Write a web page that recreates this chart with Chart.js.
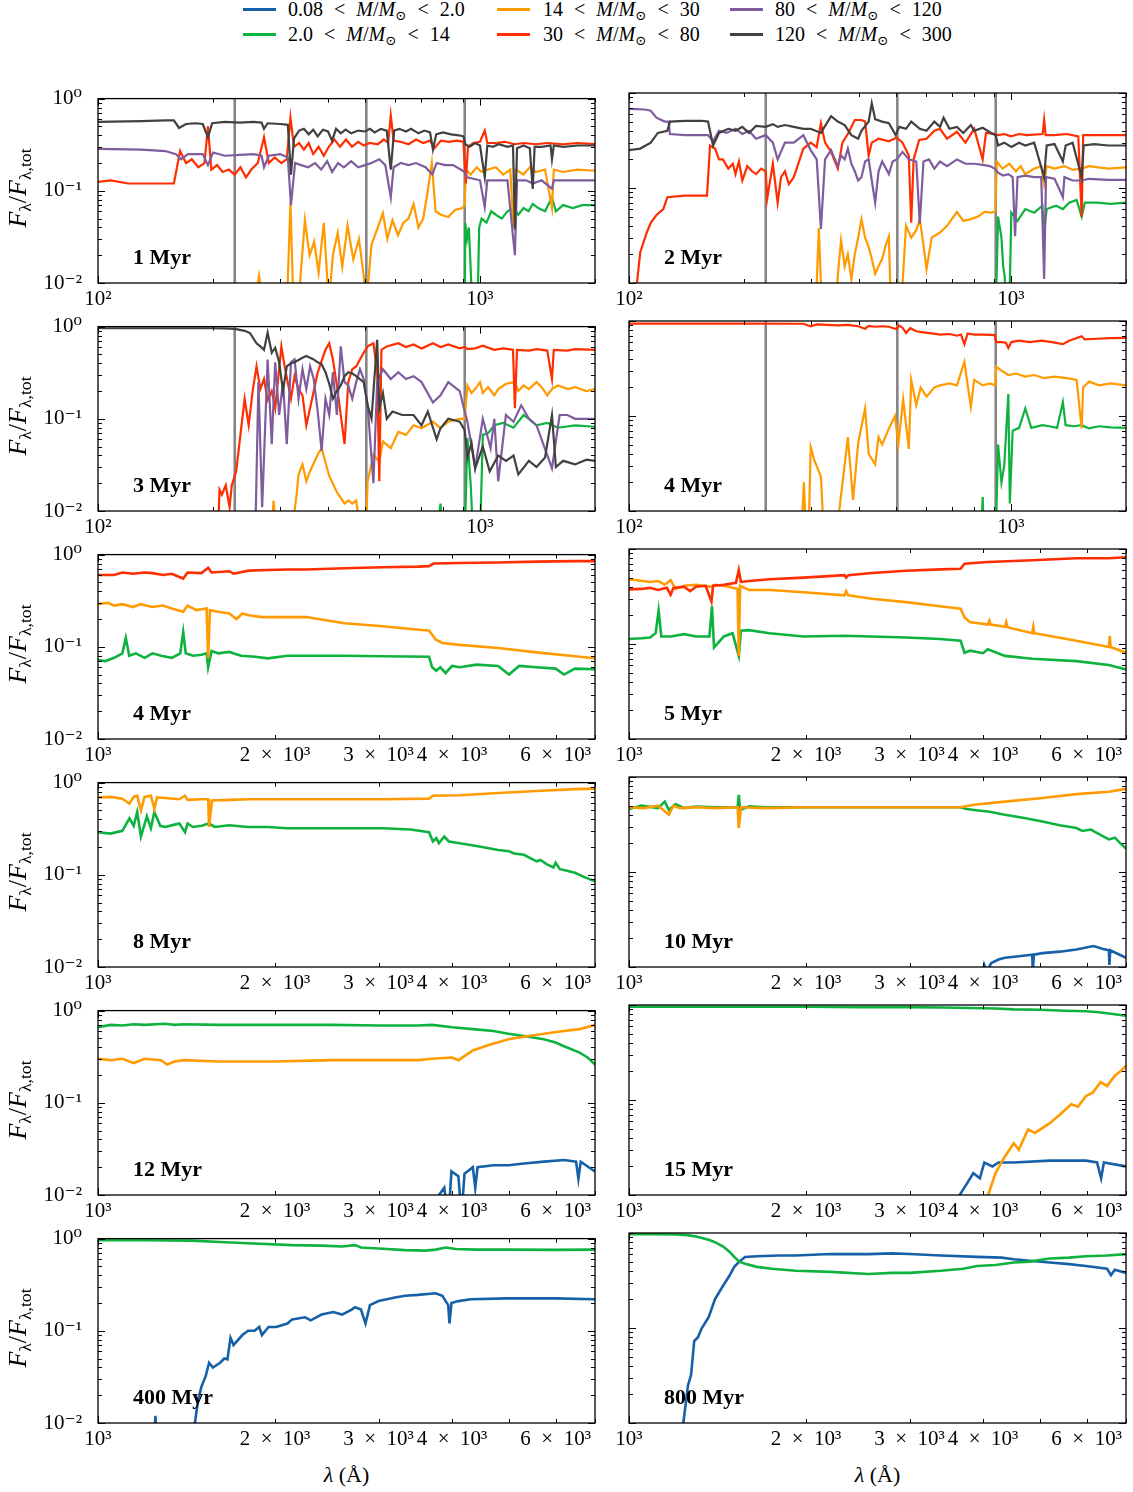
<!DOCTYPE html>
<html>
<head>
<meta charset="utf-8">
<script src="https://cdn.jsdelivr.net/npm/chart.js@4.4.0/dist/chart.umd.min.js"></script>
<style>
  body { margin: 0; background: #fff; width: 1133px; height: 1492px; position: relative; overflow: hidden;
         font-family: 'Liberation Serif', 'DejaVu Serif', serif; color: #000; }
  canvas { position: absolute; }
  .item-legenda { position: absolute; font-size: 20px; line-height: 24px; white-space: nowrap; word-spacing: 6px; }
  .traco-legenda { position: absolute; width: 33px; height: 3px; }
  .idade { position: absolute; font-weight: bold; font-size: 22px; line-height: 24px; white-space: nowrap; }
  .titulo-y { position: absolute; width: 200px; height: 28px; line-height: 28px; text-align: center;
              font-size: 26px; transform: rotate(-90deg); white-space: nowrap; }
  .titulo-x { position: absolute; width: 120px; text-align: center; font-size: 22px; line-height: 26px; }
  sub { font-size: 68%; vertical-align: -0.3em; line-height: 0; }
</style>
</head>
<body>
<script>
// espectros: pares [comprimento de onda (Å), F_lambda / F_lambda,tot]
// 1 Myr (UV)
const p1Verde = [[912,0.005],[915,0.045],[925,0.03],[935,0.04],[945,0.015],[955,0.005],[985,0.005],[995,0.04],[1010,0.05],[1040,0.045],[1070,0.06],[1100,0.055],[1140,0.05],[1180,0.06],[1224,0.065],[1260,0.055],[1300,0.065],[1340,0.06],[1374,0.072],[1420,0.065],[1480,0.06],[1543,0.085],[1580,0.06],[1650,0.07],[1750,0.065],[1850,0.07],[2000,0.07]];
const p1Laranja = [[255,0.005],[264,0.012],[272,0.005],[312,0.005],[319,0.075],[325,0.005],[338,0.01],[348,0.048],[358,0.02],[368,0.028],[378,0.013],[390,0.045],[402,0.006],[412,0.02],[424,0.035],[436,0.015],[450,0.042],[466,0.018],[482,0.03],[496,0.012],[504,0.006],[520,0.026],[540,0.04],[557,0.057],[572,0.03],[590,0.048],[610,0.033],[630,0.045],[650,0.05],[670,0.072],[690,0.04],[710,0.05],[730,0.1],[748,0.2],[765,0.06],[790,0.055],[826,0.052],[860,0.062],[900,0.065],[912,0.07],[918,0.17],[945,0.15],[980,0.18],[1010,0.16],[1050,0.17],[1100,0.18],[1150,0.15],[1200,0.17],[1224,0.04],[1240,0.17],[1300,0.15],[1350,0.18],[1400,0.16],[1480,0.17],[1543,0.065],[1560,0.17],[1650,0.16],[1800,0.17],[2000,0.165]];
const p1Vermelho = [[100,0.125],[108,0.13],[120,0.12],[140,0.12],[158,0.12],[164,0.27],[170,0.2],[176,0.22],[183,0.18],[190,0.2],[194,0.5],[198,0.17],[205,0.19],[212,0.16],[220,0.17],[228,0.15],[236,0.18],[244,0.14],[252,0.17],[262,0.2],[272,0.38],[280,0.2],[290,0.23],[302,0.2],[312,0.22],[319,0.62],[326,0.3],[336,0.33],[346,0.28],[356,0.33],[366,0.25],[378,0.3],[390,0.24],[402,0.3],[416,0.36],[430,0.3],[446,0.36],[462,0.3],[480,0.34],[496,0.31],[515,0.33],[540,0.32],[560,0.36],[575,0.33],[584,0.66],[594,0.35],[620,0.34],[650,0.32],[680,0.36],[710,0.33],[740,0.35],[760,0.29],[790,0.35],[830,0.34],[870,0.35],[905,0.34],[918,0.12],[930,0.3],[960,0.33],[1000,0.34],[1029,0.45],[1045,0.33],[1100,0.33],[1160,0.34],[1234,0.32],[1300,0.33],[1400,0.32],[1500,0.33],[1650,0.32],[1800,0.33],[2000,0.32]];
const p1Roxo = [[100,0.285],[130,0.28],[150,0.27],[160,0.25],[165,0.22],[172,0.25],[188,0.25],[194,0.19],[200,0.26],[215,0.24],[235,0.245],[255,0.25],[268,0.24],[272,0.18],[280,0.24],[300,0.25],[314,0.23],[320,0.07],[328,0.2],[340,0.19],[355,0.18],[370,0.2],[384,0.17],[398,0.21],[410,0.16],[425,0.2],[440,0.18],[460,0.21],[480,0.18],[500,0.19],[520,0.2],[545,0.22],[565,0.19],[584,0.085],[594,0.18],[620,0.2],[650,0.19],[680,0.2],[720,0.18],[750,0.15],[770,0.2],[810,0.19],[850,0.19],[890,0.17],[912,0.16],[925,0.14],[960,0.135],[1000,0.13],[1029,0.067],[1045,0.13],[1100,0.13],[1180,0.13],[1234,0.02],[1250,0.13],[1320,0.13],[1374,0.12],[1450,0.13],[1543,0.105],[1560,0.13],[1700,0.13],[2000,0.13]];
const p1Preto = [[100,0.56],[130,0.57],[150,0.58],[158,0.58],[163,0.48],[170,0.53],[180,0.54],[188,0.53],[194,0.38],[199,0.54],[215,0.56],[235,0.55],[255,0.56],[268,0.55],[272,0.47],[278,0.54],[300,0.53],[314,0.52],[320,0.15],[326,0.37],[336,0.45],[346,0.47],[356,0.41],[366,0.46],[376,0.39],[388,0.46],[400,0.44],[410,0.35],[420,0.47],[432,0.42],[445,0.46],[460,0.42],[480,0.45],[500,0.44],[515,0.47],[530,0.43],[550,0.47],[570,0.45],[584,0.17],[596,0.45],[615,0.47],[640,0.44],[660,0.47],[690,0.42],[715,0.45],[740,0.43],[753,0.28],[768,0.41],[800,0.43],[840,0.41],[880,0.4],[905,0.39],[915,0.32],[940,0.3],[970,0.33],[1000,0.31],[1029,0.14],[1045,0.31],[1080,0.3],[1120,0.32],[1180,0.3],[1220,0.31],[1234,0.038],[1250,0.29],[1300,0.31],[1350,0.29],[1374,0.105],[1390,0.3],[1450,0.3],[1530,0.31],[1543,0.22],[1560,0.31],[1650,0.3],[1800,0.31],[2000,0.31]];

// 2 Myr (UV)
const p2Verde = [[912,0.005],[925,0.05],[944,0.03],[954,0.015],[962,0.012],[973,0.005],[990,0.005],[1002,0.055],[1040,0.045],[1090,0.06],[1150,0.055],[1208,0.065],[1221,0.035],[1240,0.06],[1312,0.065],[1367,0.06],[1420,0.07],[1485,0.075],[1531,0.05],[1560,0.07],[1680,0.07],[1822,0.068],[2000,0.07]];
const p2Laranja = [[308,0.005],[314,0.038],[320,0.005],[348,0.005],[352,0.012],[359,0.028],[367,0.015],[374,0.02],[382,0.011],[390,0.02],[398,0.03],[406,0.047],[415,0.03],[424,0.024],[432,0.018],[441,0.0125],[450,0.015],[460,0.018],[470,0.025],[479,0.031],[485,0.005],[515,0.005],[531,0.04],[548,0.03],[565,0.036],[577,0.047],[590,0.025],[601,0.014],[620,0.03],[652,0.034],[680,0.04],[722,0.056],[750,0.045],[785,0.047],[820,0.05],[852,0.056],[890,0.055],[910,0.057],[918,0.19],[950,0.16],[990,0.18],[1030,0.15],[1060,0.17],[1090,0.14],[1150,0.16],[1200,0.17],[1221,0.11],[1240,0.17],[1300,0.16],[1380,0.17],[1450,0.155],[1531,0.16],[1600,0.17],[1800,0.16],[2000,0.165]];
const p2Vermelho = [[103,0.005],[107,0.021],[111,0.033],[114,0.043],[118,0.052],[123,0.06],[126,0.08],[140,0.083],[160,0.083],[163,0.28],[168,0.26],[172,0.2],[176,0.2],[182,0.16],[187,0.18],[190,0.14],[194,0.19],[198,0.12],[204,0.17],[210,0.15],[215,0.14],[222,0.16],[228,0.15],[230,0.077],[238,0.18],[245,0.07],[250,0.13],[256,0.15],[262,0.11],[270,0.13],[286,0.26],[299,0.3],[310,0.27],[318,0.48],[326,0.3],[338,0.24],[352,0.16],[362,0.3],[374,0.37],[390,0.52],[406,0.52],[415,0.5],[424,0.22],[432,0.3],[450,0.33],[479,0.31],[502,0.34],[520,0.3],[540,0.22],[548,0.043],[556,0.2],[575,0.32],[601,0.33],[630,0.4],[652,0.42],[680,0.33],[722,0.39],[760,0.3],[801,0.42],[843,0.2],[860,0.38],[912,0.37],[925,0.36],[960,0.37],[1000,0.35],[1050,0.37],[1100,0.36],[1210,0.37],[1221,0.52],[1232,0.36],[1300,0.36],[1400,0.37],[1500,0.35],[1531,0.05],[1545,0.36],[1700,0.36],[2000,0.36]];
const p2Roxo = [[100,0.68],[110,0.67],[114,0.65],[118,0.55],[124,0.5],[127,0.5],[128,0.37],[140,0.36],[155,0.36],[161,0.36],[166,0.31],[172,0.4],[180,0.38],[190,0.42],[198,0.37],[206,0.4],[215,0.33],[228,0.36],[238,0.3],[245,0.2],[256,0.3],[270,0.3],[286,0.36],[299,0.25],[310,0.2],[318,0.037],[326,0.2],[338,0.25],[352,0.17],[359,0.22],[367,0.2],[374,0.26],[382,0.18],[390,0.15],[398,0.12],[406,0.13],[415,0.19],[424,0.2],[432,0.12],[441,0.07],[450,0.15],[460,0.19],[479,0.14],[490,0.19],[502,0.2],[520,0.24],[540,0.2],[565,0.19],[577,0.042],[590,0.19],[610,0.2],[630,0.16],[652,0.19],[680,0.17],[722,0.2],[760,0.18],[801,0.18],[843,0.175],[880,0.17],[906,0.16],[925,0.145],[954,0.135],[984,0.14],[1010,0.13],[1025,0.031],[1040,0.13],[1090,0.135],[1150,0.13],[1200,0.13],[1221,0.011],[1235,0.13],[1300,0.125],[1367,0.08],[1380,0.13],[1450,0.12],[1531,0.12],[1600,0.125],[1800,0.122],[2000,0.122]];
const p2Preto = [[100,0.25],[107,0.26],[114,0.3],[119,0.38],[126,0.4],[128,0.5],[140,0.51],[155,0.51],[161,0.5],[166,0.28],[172,0.38],[182,0.42],[190,0.4],[198,0.44],[206,0.38],[215,0.45],[228,0.44],[238,0.47],[245,0.44],[256,0.46],[270,0.44],[286,0.42],[299,0.42],[318,0.38],[338,0.57],[352,0.5],[367,0.46],[382,0.36],[398,0.33],[406,0.4],[424,0.5],[432,0.78],[441,0.53],[460,0.5],[479,0.48],[499,0.36],[510,0.44],[531,0.42],[548,0.5],[565,0.45],[577,0.42],[601,0.4],[630,0.5],[652,0.44],[666,0.55],[690,0.42],[722,0.44],[750,0.38],[785,0.46],[801,0.4],[843,0.43],[887,0.38],[912,0.36],[925,0.28],[960,0.3],[1002,0.27],[1050,0.3],[1090,0.28],[1150,0.3],[1221,0.13],[1240,0.28],[1300,0.29],[1367,0.19],[1390,0.28],[1450,0.3],[1531,0.13],[1550,0.28],[1650,0.29],[1800,0.28],[2000,0.28]];

// 3 Myr (UV)
const p3Verde = [[770,0.005],[788,0.012],[800,0.005],[912,0.005],[927,0.062],[945,0.02],[960,0.005],[1000,0.005],[1017,0.067],[1050,0.07],[1090,0.085],[1150,0.09],[1224,0.08],[1300,0.11],[1343,0.1],[1406,0.085],[1500,0.09],[1600,0.08],[1774,0.085],[2000,0.082]];
const p3Laranja = [[285,0.005],[288,0.013],[294,0.005],[320,0.005],[331,0.015],[335,0.025],[343,0.032],[351,0.021],[359,0.027],[376,0.041],[385,0.048],[403,0.024],[422,0.016],[442,0.012],[452,0.013],[463,0.012],[474,0.013],[490,0.005],[502,0.005],[508,0.021],[526,0.041],[545,0.034],[557,0.057],[584,0.048],[611,0.072],[640,0.067],[670,0.085],[703,0.079],[753,0.093],[788,0.079],[826,0.093],[885,0.1],[912,0.1],[927,0.23],[950,0.19],[971,0.21],[1000,0.25],[1017,0.19],[1050,0.22],[1090,0.18],[1116,0.21],[1170,0.24],[1234,0.25],[1260,0.2],[1300,0.23],[1343,0.21],[1406,0.25],[1450,0.22],[1500,0.18],[1543,0.21],[1600,0.23],[1700,0.21],[1774,0.22],[1900,0.2],[2000,0.21]];
const p3Vermelho = [[206,0.005],[208,0.017],[211,0.015],[216,0.019],[221,0.011],[224,0.019],[230,0.027],[242,0.165],[248,0.085],[254,0.2],[260,0.37],[266,0.21],[272,0.27],[278,0.16],[285,0.2],[291,0.13],[302,0.61],[308,0.37],[320,0.165],[327,0.29],[335,0.21],[343,0.18],[351,0.085],[359,0.13],[376,0.32],[394,0.56],[403,0.66],[412,0.44],[422,0.23],[442,0.053],[452,0.25],[463,0.345],[474,0.37],[496,0.52],[508,0.61],[526,0.66],[538,0.32],[545,0.021],[552,0.56],[570,0.61],[611,0.66],[640,0.6],[670,0.64],[703,0.58],[753,0.66],[788,0.6],[826,0.64],[885,0.58],[912,0.6],[927,0.57],[971,0.58],[1017,0.62],[1090,0.56],[1150,0.58],[1220,0.56],[1234,0.13],[1250,0.56],[1343,0.55],[1406,0.57],[1500,0.55],[1543,0.27],[1560,0.56],[1693,0.55],[1774,0.57],[2000,0.56]];
const p3Roxo = [[258,0.005],[263,0.25],[269,0.011],[278,0.44],[285,0.053],[291,0.41],[298,0.11],[305,0.25],[312,0.053],[320,0.41],[327,0.44],[335,0.165],[343,0.345],[351,0.21],[359,0.37],[367,0.27],[376,0.12],[385,0.045],[394,0.165],[403,0.11],[412,0.32],[422,0.11],[432,0.61],[442,0.25],[452,0.23],[463,0.165],[474,0.25],[485,0.345],[496,0.27],[508,0.14],[526,0.02],[538,0.25],[557,0.345],[584,0.27],[611,0.32],[640,0.27],[670,0.29],[703,0.25],[753,0.15],[788,0.18],[826,0.25],[885,0.2],[912,0.12],[927,0.093],[971,0.029],[1017,0.1],[1066,0.048],[1090,0.1],[1116,0.021],[1169,0.11],[1224,0.093],[1282,0.14],[1343,0.1],[1406,0.085],[1508,0.038],[1543,0.029],[1616,0.11],[1693,0.11],[1774,0.1],[2000,0.1]];
const p3Preto = [[100,0.96],[150,0.96],[200,0.96],[221,0.95],[230,0.94],[242,0.9],[250,0.85],[260,0.66],[266,0.61],[272,0.56],[278,0.86],[285,0.52],[291,0.59],[298,0.41],[305,0.2],[312,0.37],[320,0.4],[327,0.41],[343,0.46],[351,0.48],[359,0.46],[367,0.44],[376,0.41],[385,0.39],[394,0.32],[403,0.24],[412,0.165],[422,0.2],[432,0.23],[442,0.29],[452,0.32],[463,0.31],[474,0.29],[496,0.25],[508,0.14],[520,0.1],[538,0.72],[545,0.13],[557,0.19],[570,0.1],[590,0.12],[626,0.11],[670,0.11],[703,0.085],[730,0.12],[770,0.06],[788,0.079],[826,0.1],[885,0.093],[912,0.075],[927,0.038],[950,0.055],[971,0.029],[1017,0.05],[1060,0.027],[1116,0.04],[1170,0.035],[1224,0.04],[1260,0.025],[1343,0.035],[1406,0.03],[1480,0.038],[1543,0.11],[1580,0.03],[1650,0.035],[1774,0.032],[1900,0.036],[2000,0.035]];

// 4 Myr (UV)
const p4Verde = [[835,0.005],[843,0.014],[850,0.005],[912,0.005],[925,0.05],[944,0.02],[960,0.03],[984,0.17],[993,0.012],[1010,0.07],[1050,0.075],[1090,0.12],[1130,0.075],[1208,0.08],[1260,0.078],[1320,0.075],[1367,0.14],[1390,0.08],[1460,0.078],[1531,0.08],[1600,0.074],[1700,0.078],[1822,0.076],[2000,0.075]];
const p4Laranja = [[282,0.005],[287,0.02],[291,0.005],[295,0.005],[299,0.047],[305,0.035],[318,0.023],[324,0.005],[350,0.005],[355,0.01],[367,0.031],[374,0.06],[386,0.013],[398,0.052],[415,0.12],[424,0.04],[441,0.031],[450,0.06],[460,0.05],[479,0.074],[497,0.1],[507,0.05],[522,0.15],[540,0.045],[548,0.24],[565,0.13],[580,0.2],[601,0.16],[630,0.2],[652,0.21],[690,0.22],[722,0.21],[755,0.37],[785,0.125],[801,0.24],[843,0.21],[880,0.22],[910,0.21],[915,0.33],[944,0.3],[984,0.27],[1030,0.28],[1090,0.26],[1150,0.27],[1221,0.25],[1300,0.26],[1400,0.25],[1485,0.24],[1531,0.074],[1545,0.2],[1600,0.23],[1700,0.21],[1822,0.22],[2000,0.21]];
const p4Vermelho = [[100,0.94],[200,0.94],[286,0.935],[299,0.88],[310,0.92],[330,0.91],[352,0.9],[374,0.91],[398,0.88],[415,0.83],[424,0.89],[441,0.87],[460,0.88],[479,0.87],[502,0.82],[508,0.9],[520,0.85],[531,0.75],[545,0.84],[565,0.78],[590,0.76],[620,0.74],[652,0.72],[690,0.73],[722,0.7],[740,0.72],[755,0.57],[770,0.74],[801,0.72],[843,0.72],[906,0.71],[915,0.6],[944,0.6],[970,0.59],[984,0.52],[1002,0.6],[1050,0.62],[1120,0.6],[1200,0.62],[1280,0.6],[1367,0.57],[1420,0.62],[1531,0.69],[1560,0.64],[1680,0.65],[1822,0.66],[2000,0.665]];

// 4 Myr (óptico)
const p5Verde = [[1000,0.072],[1030,0.07],[1065,0.076],[1100,0.085],[1115,0.125],[1130,0.08],[1160,0.085],[1200,0.076],[1238,0.085],[1280,0.08],[1335,0.076],[1380,0.085],[1396,0.145],[1410,0.085],[1450,0.08],[1500,0.082],[1530,0.085],[1539,0.06],[1560,0.09],[1600,0.085],[1672,0.088],[1750,0.08],[1850,0.078],[1944,0.075],[2100,0.08],[2625,0.08],[3051,0.079],[3655,0.078],[3700,0.06],[3760,0.055],[3820,0.06],[3900,0.052],[4000,0.062],[4121,0.06],[4400,0.064],[4790,0.062],[5000,0.05],[5200,0.062],[5568,0.06],[6000,0.058],[6200,0.05],[6471,0.058],[7000,0.057]];
const p5Laranja = [[1000,0.29],[1040,0.3],[1065,0.28],[1100,0.29],[1148,0.27],[1180,0.29],[1238,0.27],[1290,0.28],[1335,0.26],[1396,0.24],[1420,0.28],[1470,0.25],[1530,0.26],[1539,0.075],[1550,0.25],[1600,0.24],[1672,0.23],[1720,0.2],[1760,0.23],[1803,0.22],[1900,0.21],[1944,0.21],[2000,0.21],[2260,0.21],[2625,0.18],[3051,0.167],[3550,0.152],[3655,0.15],[3700,0.135],[3750,0.12],[3850,0.11],[4121,0.105],[4790,0.097],[5568,0.087],[6471,0.079],[7000,0.075]];
const p5Vermelho = [[1000,0.6],[1065,0.6],[1100,0.64],[1148,0.62],[1200,0.64],[1238,0.63],[1290,0.6],[1335,0.62],[1396,0.55],[1420,0.64],[1500,0.63],[1539,0.72],[1560,0.64],[1672,0.66],[1700,0.62],[1803,0.67],[1944,0.68],[2100,0.69],[2260,0.69],[2625,0.71],[3051,0.73],[3500,0.74],[3655,0.75],[3720,0.8],[4121,0.81],[4790,0.82],[5568,0.84],[6471,0.85],[7000,0.85]];

// 5 Myr
const p6Verde = [[1000,0.113],[1050,0.115],[1086,0.117],[1110,0.13],[1123,0.225],[1135,0.12],[1177,0.12],[1241,0.127],[1300,0.12],[1370,0.12],[1384,0.25],[1395,0.092],[1450,0.12],[1500,0.13],[1537,0.075],[1550,0.138],[1600,0.14],[1734,0.13],[1981,0.12],[2325,0.122],[2957,0.117],[3379,0.113],[3663,0.108],[3720,0.081],[3800,0.085],[4000,0.08],[4074,0.088],[4357,0.075],[4849,0.07],[5763,0.066],[6546,0.06],[7000,0.054]];
const p6Laranja = [[1000,0.48],[1086,0.45],[1123,0.46],[1150,0.42],[1177,0.47],[1200,0.38],[1241,0.41],[1300,0.42],[1381,0.4],[1400,0.42],[1480,0.4],[1530,0.38],[1537,0.075],[1545,0.41],[1600,0.37],[1734,0.37],[1981,0.35],[2325,0.325],[2340,0.36],[2360,0.325],[2588,0.3],[2957,0.276],[3379,0.25],[3663,0.235],[3720,0.19],[3800,0.17],[4074,0.16],[4100,0.176],[4120,0.16],[4357,0.152],[4380,0.17],[4400,0.15],[4849,0.13],[4870,0.152],[4890,0.13],[5763,0.108],[6546,0.093],[6570,0.122],[6590,0.093],[7000,0.081]];
const p6Vermelho = [[1000,0.376],[1050,0.38],[1086,0.39],[1120,0.37],[1160,0.39],[1177,0.33],[1190,0.39],[1241,0.4],[1270,0.36],[1300,0.4],[1350,0.41],[1381,0.28],[1390,0.41],[1450,0.42],[1520,0.44],[1537,0.6],[1550,0.45],[1600,0.46],[1734,0.48],[1981,0.5],[2325,0.53],[2340,0.5],[2360,0.53],[2588,0.56],[2957,0.59],[3379,0.61],[3663,0.62],[3720,0.7],[4074,0.73],[4849,0.76],[5763,0.8],[6546,0.8],[7000,0.82]];

// 8 Myr
const p7Verde = [[1000,0.29],[1050,0.28],[1100,0.3],[1131,0.41],[1150,0.34],[1166,0.48],[1183,0.26],[1211,0.43],[1230,0.32],[1247,0.48],[1276,0.34],[1300,0.33],[1350,0.35],[1375,0.36],[1406,0.29],[1420,0.36],[1450,0.33],[1500,0.34],[1544,0.36],[1580,0.33],[1672,0.345],[1800,0.33],[1944,0.33],[2096,0.32],[2625,0.32],[3051,0.32],[3400,0.31],[3655,0.29],[3711,0.23],[3760,0.25],[3800,0.22],[3880,0.26],[3950,0.23],[4121,0.22],[4300,0.21],[4500,0.2],[4790,0.186],[5000,0.18],[5100,0.17],[5300,0.165],[5568,0.14],[5650,0.145],[5800,0.13],[5950,0.12],[6000,0.135],[6100,0.115],[6300,0.11],[6471,0.105],[6700,0.095],[7000,0.085]];
const p7Laranja = [[1000,0.69],[1050,0.7],[1100,0.67],[1131,0.59],[1150,0.7],[1166,0.72],[1183,0.5],[1200,0.7],[1230,0.72],[1247,0.52],[1260,0.69],[1300,0.68],[1375,0.66],[1406,0.72],[1420,0.65],[1500,0.66],[1540,0.66],[1544,0.33],[1563,0.64],[1672,0.65],[1800,0.66],[2096,0.66],[2625,0.66],[3051,0.66],[3655,0.67],[3711,0.72],[4121,0.73],[4790,0.77],[5568,0.81],[6471,0.85],[7000,0.86]];

// 10 Myr
const p8Azul = [[3950,0.005],[4020,0.0105],[4060,0.009],[4130,0.011],[4250,0.012],[4357,0.0125],[4600,0.013],[4849,0.0135],[4860,0.009],[4880,0.0135],[5047,0.014],[5400,0.0145],[5763,0.0153],[6166,0.0166],[6400,0.0155],[6546,0.015],[6560,0.0105],[6580,0.015],[7000,0.0125]];
const p8Verde = [[1000,0.46],[1050,0.5],[1120,0.47],[1150,0.55],[1169,0.45],[1200,0.52],[1241,0.47],[1300,0.49],[1400,0.48],[1530,0.48],[1537,0.65],[1545,0.45],[1600,0.49],[1700,0.48],[2000,0.48],[2325,0.48],[2957,0.48],[3379,0.48],[3663,0.48],[3750,0.46],[3864,0.45],[4100,0.43],[4357,0.4],[4700,0.37],[5047,0.34],[5400,0.31],[5763,0.29],[5900,0.27],[6100,0.28],[6300,0.25],[6546,0.22],[6700,0.23],[6850,0.2],[7000,0.176]];
const p8Laranja = [[1000,0.48],[1060,0.47],[1120,0.5],[1169,0.4],[1190,0.5],[1220,0.47],[1300,0.48],[1400,0.47],[1530,0.48],[1537,0.29],[1550,0.48],[1700,0.47],[2000,0.48],[2325,0.48],[2957,0.48],[3379,0.48],[3663,0.48],[3864,0.51],[4357,0.55],[5047,0.6],[5763,0.66],[6546,0.7],[7000,0.75]];

// 12 Myr
const p9Azul = [[3750,0.005],[3800,0.01],[3880,0.012],[3940,0.005],[3990,0.018],[4100,0.016],[4150,0.006],[4200,0.017],[4339,0.02],[4380,0.012],[4420,0.02],[4700,0.021],[4989,0.021],[5300,0.022],[5730,0.023],[6200,0.024],[6500,0.023],[6560,0.015],[6620,0.023],[7000,0.018]];
const p9Verde = [[1000,0.66],[1050,0.7],[1100,0.69],[1150,0.71],[1200,0.7],[1300,0.72],[1350,0.7],[1400,0.71],[1600,0.7],[2000,0.7],[2500,0.7],[3000,0.69],[3500,0.69],[3700,0.7],[4000,0.66],[4339,0.63],[4700,0.6],[4989,0.56],[5300,0.53],[5730,0.49],[6000,0.45],[6200,0.41],[6590,0.35],[6800,0.31],[7000,0.26]];
const p9Laranja = [[1000,0.3],[1050,0.29],[1100,0.3],[1150,0.27],[1200,0.3],[1280,0.29],[1310,0.26],[1350,0.28],[1400,0.29],[1600,0.28],[2000,0.28],[2500,0.29],[3000,0.29],[3500,0.29],[3700,0.3],[4000,0.31],[4100,0.29],[4339,0.37],[4600,0.42],[4989,0.49],[5300,0.52],[5730,0.56],[6200,0.6],[6590,0.63],[7000,0.7]];

// 15 Myr
const p10Azul = [[3550,0.005],[3650,0.01],[3750,0.013],[3850,0.017],[3950,0.015],[4020,0.022],[4150,0.02],[4250,0.022],[4510,0.022],[5195,0.023],[5985,0.023],[6250,0.022],[6350,0.015],[6420,0.022],[7000,0.02]];
const p10Verde = [[1000,0.96],[1500,0.96],[2000,0.96],[2500,0.95],[3000,0.95],[3400,0.94],[3800,0.93],[4200,0.92],[4510,0.9],[5000,0.89],[5500,0.87],[5985,0.86],[6300,0.84],[6600,0.81],[7000,0.77]];
const p10Laranja = [[4000,0.005],[4080,0.01],[4200,0.017],[4350,0.025],[4510,0.035],[4600,0.03],[4770,0.049],[4900,0.045],[5195,0.057],[5400,0.07],[5650,0.09],[5800,0.085],[5985,0.11],[6150,0.12],[6340,0.155],[6500,0.14],[6700,0.18],[6850,0.2],[7000,0.23]];

// 400 Myr
const p11Azul = [[1200,0.005],[1245,0.005],[1252,0.012],[1260,0.005],[1440,0.005],[1480,0.018],[1500,0.025],[1524,0.032],[1545,0.045],[1568,0.04],[1613,0.045],[1640,0.05],[1660,0.049],[1680,0.084],[1700,0.07],[1760,0.09],[1800,0.1],[1846,0.1],[1880,0.11],[1900,0.09],[1950,0.11],[2008,0.11],[2100,0.12],[2138,0.133],[2250,0.14],[2300,0.13],[2400,0.15],[2513,0.16],[2600,0.15],[2700,0.17],[2736,0.18],[2800,0.17],[2850,0.12],[2900,0.19],[3000,0.21],[3200,0.23],[3329,0.24],[3500,0.245],[3750,0.255],[3850,0.24],[3940,0.19],[3960,0.12],[3990,0.2],[4100,0.21],[4300,0.22],[4970,0.225],[6000,0.225],[7000,0.22]];
const p11Verde = [[1000,0.96],[1200,0.96],[1442,0.95],[1613,0.92],[1800,0.89],[2138,0.85],[2400,0.84],[2600,0.82],[2736,0.85],[2800,0.8],[3000,0.78],[3329,0.75],[3600,0.74],[3750,0.76],[3900,0.8],[4056,0.77],[4400,0.76],[4970,0.76],[6000,0.755],[7000,0.76]];

// 800 Myr
const p12Azul = [[1220,0.005],[1237,0.01],[1260,0.025],[1275,0.032],[1291,0.073],[1310,0.08],[1330,0.1],[1366,0.13],[1400,0.2],[1446,0.28],[1480,0.35],[1510,0.44],[1540,0.5],[1575,0.56],[1650,0.57],[1800,0.58],[1922,0.58],[2200,0.6],[2553,0.6],[2800,0.61],[3000,0.6],[3390,0.58],[3908,0.56],[4300,0.55],[4510,0.53],[4800,0.51],[5195,0.49],[5600,0.47],[5985,0.45],[6500,0.42],[6600,0.36],[6700,0.41],[7000,0.38]];
const p12Verde = [[1000,0.97],[1100,0.97],[1200,0.965],[1255,0.95],[1300,0.92],[1366,0.85],[1400,0.8],[1446,0.72],[1480,0.64],[1510,0.56],[1540,0.5],[1575,0.475],[1650,0.44],[1750,0.42],[1922,0.4],[2200,0.39],[2553,0.37],[2800,0.38],[3000,0.38],[3390,0.4],[3700,0.42],[3908,0.45],[4200,0.46],[4510,0.49],[4800,0.5],[5195,0.54],[5600,0.55],[5985,0.57],[6500,0.58],[7000,0.6]];

// eixos
const xTicksUV = [100, 1000];
const xRotulosUV = ['10²', '10³'];
const xTicksOpt = [1000, 2000, 3000, 4000, 6000];
const xRotulosOpt = ['10³', '2\u2002×\u200210³', '3\u2002×\u200210³', '4\u2002×\u200210³', '6\u2002×\u200210³'];
const yTicks = [0.01, 0.1, 1];
const yRotulos = ['10⁻²', '10⁻¹', '10⁰'];
const bordasIonizacao = [228, 504, 912];

const cores = { azul: '#1660a8', verde: '#0db33e', laranja: '#ff9b00', vermelho: '#ff2e00', roxo: '#7e5c9d', preto: '#414141' };

// legenda
const faixasMassa = [['0.08', '2.0'], ['2.0', '14'], ['14', '30'], ['30', '80'], ['80', '120'], ['120', '300']];
const coresFaixas = ['azul', 'verde', 'laranja', 'vermelho', 'roxo', 'preto'];

const idades = ['1 Myr', '2 Myr', '3 Myr', '4 Myr', '4 Myr', '5 Myr', '8 Myr', '10 Myr', '12 Myr', '15 Myr', '400 Myr', '800 Myr'];
const faixasX = ['uv', 'uv', 'uv', 'uv', 'opt', 'opt', 'opt', 'opt', 'opt', 'opt', 'opt', 'opt'];
// ordem de desenho: a primeira fica por baixo
const seriesPaineis = [
  [['verde', p1Verde], ['laranja', p1Laranja], ['vermelho', p1Vermelho], ['roxo', p1Roxo], ['preto', p1Preto]],
  [['verde', p2Verde], ['laranja', p2Laranja], ['vermelho', p2Vermelho], ['roxo', p2Roxo], ['preto', p2Preto]],
  [['verde', p3Verde], ['laranja', p3Laranja], ['vermelho', p3Vermelho], ['roxo', p3Roxo], ['preto', p3Preto]],
  [['verde', p4Verde], ['laranja', p4Laranja], ['vermelho', p4Vermelho]],
  [['verde', p5Verde], ['laranja', p5Laranja], ['vermelho', p5Vermelho]],
  [['verde', p6Verde], ['laranja', p6Laranja], ['vermelho', p6Vermelho]],
  [['verde', p7Verde], ['laranja', p7Laranja]],
  [['azul', p8Azul], ['verde', p8Verde], ['laranja', p8Laranja]],
  [['azul', p9Azul], ['verde', p9Verde], ['laranja', p9Laranja]],
  [['azul', p10Azul], ['verde', p10Verde], ['laranja', p10Laranja]],
  [['azul', p11Azul], ['verde', p11Verde]],
  [['azul', p12Azul], ['verde', p12Verde]]
];

const colunas = [98, 629];
const linhas = [93, 321, 549, 777, 1005, 1233];
const larguraPainel = 497, alturaPainel = 190;

Chart.defaults.font.family = "'Liberation Serif', 'DejaVu Serif', serif";
Chart.defaults.font.size = 21;
Chart.defaults.color = '#000';

// linhas cinzas nas bordas de ionizacao + moldura e tracinhos para dentro
const marcas = {
  id: 'marcas',
  beforeDatasetsDraw(chart, args, opts) {
    const { ctx, chartArea: a, scales: { x } } = chart;
    ctx.save();
    ctx.strokeStyle = '#858585';
    ctx.lineWidth = 2.6;
    (opts.linhas || []).forEach(l => {
      const px = x.getPixelForValue(l);
      ctx.beginPath(); ctx.moveTo(px, a.top); ctx.lineTo(px, a.bottom); ctx.stroke();
    });
    ctx.restore();
  },
  afterDraw(chart) {
    const { ctx, chartArea: a, scales: { x, y } } = chart;
    const traco = (x0, y0, x1, y1) => { ctx.beginPath(); ctx.moveTo(x0, y0); ctx.lineTo(x1, y1); ctx.stroke(); };
    ctx.save();
    ctx.strokeStyle = '#000';
    ctx.lineWidth = 1;
    for (let e = -2; e <= 0; e++) {
      for (let k = 1; k < 10; k++) {
        const v = k * Math.pow(10, e);
        if (v > y.max * 1.0001) continue;
        const py = Math.round(y.getPixelForValue(v)) + 0.5;
        const len = k === 1 ? 7 : 4;
        traco(a.left, py, a.left + len, py);
        traco(a.right, py, a.right - len, py);
      }
    }
    for (let e = 2; e <= 3; e++) {
      for (let k = 1; k < 10; k++) {
        const v = k * Math.pow(10, e);
        if (v < x.min * 0.9999 || v > x.max * 1.0001) continue;
        const px = Math.round(x.getPixelForValue(v)) + 0.5;
        const len = k === 1 ? 7 : 4;
        traco(px, a.bottom, px, a.bottom - len);
        traco(px, a.top, px, a.top + len);
      }
    }
    ctx.lineWidth = 1.3;
    ctx.strokeRect(a.left, a.top, a.right - a.left, a.bottom - a.top);
    ctx.restore();
  }
};

function montarPainel(i) {
  const col = i % 2, lin = Math.floor(i / 2);
  const uv = faixasX[i] === 'uv';
  const larguraY = col === 0 ? 70 : 25;
  const xt = uv ? xTicksUV : xTicksOpt;
  const xr = uv ? xRotulosUV : xRotulosOpt;

  const canvas = document.createElement('canvas');
  canvas.width = larguraY + larguraPainel + 8;
  canvas.height = 15 + alturaPainel + 35;
  canvas.style.left = (colunas[col] - larguraY) + 'px';
  canvas.style.top = (linhas[lin] - 15) + 'px';
  document.body.appendChild(canvas);

  const datasets = seriesPaineis[i].slice().reverse().map(([cor, pts]) => ({
    data: pts.map(([x, y]) => ({ x, y })),
    borderColor: cores[cor],
    borderWidth: uv ? 2.2 : 2.6,
    pointRadius: 0,
    tension: 0,
    clip: 0
  }));

  new Chart(canvas, {
    type: 'line',
    data: { datasets },
    options: {
      responsive: false,
      animation: false,
      events: [],
      layout: { padding: { top: 15, right: 8, left: 0, bottom: 0 } },
      plugins: { legend: { display: false }, tooltip: { enabled: false }, marcas: { linhas: uv ? bordasIonizacao : [] } },
      scales: {
        x: {
          type: 'logarithmic', min: uv ? 100 : 1000, max: uv ? 2000 : 7000,
          grid: { display: false }, border: { display: false },
          afterBuildTicks: s => { s.ticks = xt.map(v => ({ value: v })); },
          afterFit: s => { s.height = 35; },
          ticks: { autoSkip: false, maxRotation: 0, padding: -4, callback: v => xr[xt.indexOf(v)] }
        },
        y: {
          type: 'logarithmic', min: 0.01, max: 1,
          grid: { display: false }, border: { display: false },
          afterBuildTicks: s => { s.ticks = yTicks.map(v => ({ value: v })); },
          afterFit: s => { s.width = larguraY; },
          ticks: { display: col === 0, padding: 8, callback: v => yRotulos[yTicks.indexOf(v)] }
        }
      }
    },
    plugins: [marcas]
  });

  const idade = document.createElement('div');
  idade.className = 'idade';
  idade.textContent = idades[i];
  idade.style.left = (colunas[col] + 35) + 'px';
  idade.style.top = (linhas[lin] + alturaPainel - 38) + 'px';
  document.body.appendChild(idade);

  if (col === 0) {
    const ty = document.createElement('div');
    ty.className = 'titulo-y';
    ty.innerHTML = '<i>F</i><sub>λ</sub>/<i>F</i><sub>λ,tot</sub>';
    ty.style.left = (18 - 100) + 'px';
    ty.style.top = (linhas[lin] + alturaPainel / 2 - 14) + 'px';
    document.body.appendChild(ty);
  }
  if (lin === linhas.length - 1) {
    const tx = document.createElement('div');
    tx.className = 'titulo-x';
    tx.innerHTML = '<i>λ</i> (Å)';
    tx.style.left = (colunas[col] + larguraPainel / 2 - 60) + 'px';
    tx.style.top = '1462px';
    document.body.appendChild(tx);
  }
}

function montarLegenda() {
  const xTraco = [243, 497, 730], xTexto = [288, 543, 775], yCentro = [9, 34];
  faixasMassa.forEach(([lo, hi], i) => {
    const c = Math.floor(i / 2), r = i % 2;
    const t = document.createElement('div');
    t.className = 'traco-legenda';
    t.style.background = cores[coresFaixas[i]];
    t.style.left = xTraco[c] + 'px';
    t.style.top = (yCentro[r] - 1.5) + 'px';
    document.body.appendChild(t);
    const s = document.createElement('div');
    s.className = 'item-legenda';
    s.innerHTML = `${lo} &lt; <i>M</i>/<i>M</i><sub>⊙</sub> &lt; ${hi}`;
    s.style.left = xTexto[c] + 'px';
    s.style.top = (yCentro[r] - 12) + 'px';
    document.body.appendChild(s);
  });
}

montarLegenda();
idades.forEach((_, i) => montarPainel(i));
</script>
</body>
</html>
